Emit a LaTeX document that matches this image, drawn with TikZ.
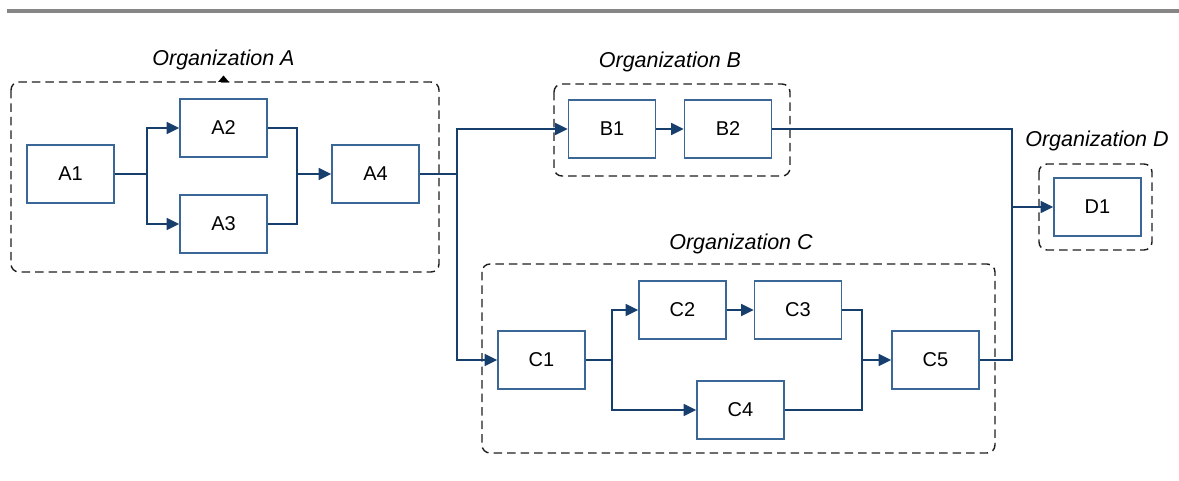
\documentclass[tikz,border=0pt]{standalone}
\usepackage{fontspec}
\setmainfont{Liberation Sans}
\usetikzlibrary{arrows.meta}
\definecolor{boxblue}{HTML}{3A6795}
\definecolor{linkblue}{HTML}{163F6E}
\definecolor{dashgray}{HTML}{1E1E1E}
\tikzset{
  procbox/.style={draw=boxblue, line width=1.6pt, fill=white, minimum width=87pt, minimum height=58pt, inner sep=0pt, font=\fontsize{20}{23}\selectfont},
  link/.style={draw=linkblue, line width=1.7pt},
  linkarrow/.style={link, -{Triangle[length=12.5pt,width=12pt]}},
  orgbox/.style={draw=dashgray, line width=1.4pt, dash pattern=on 8.5pt off 5pt, rounded corners=8pt},
  orglabel/.style={font=\fontsize{21.5}{25}\itshape\selectfont, inner sep=0pt}
}
\begin{document}
\begin{tikzpicture}[x=1pt,y=-1pt]
\useasboundingbox (0,0) rectangle (1179,481);
% top rule
\draw[draw=gray!95, line width=4pt] (7,11.5) -- (1179,11.5);

% organisation frames
\draw[orgbox] (11,82) rectangle (439,272);
\draw[orgbox] (554,84) rectangle (790,176);
\draw[orgbox] (482,264) rectangle (995,453);
\draw[orgbox] (1039,164) rectangle (1152,250);

\node[orglabel] (labA) at (223.5,59.5) {Organization A};
\node[orglabel] (labB) at (670,62) {Organization B};
\node[orglabel] (labC) at (741,243.5) {Organization C};
\node[orglabel] (labD) at (1097,140.5) {Organization D};
\fill[black] (218,82) -- (223.5,75.5) -- (229,82) -- cycle;

% boxes
\node[procbox] (A1) at (70.5,174) {A1};
\node[procbox] (A2) at (223.5,128) {A2};
\node[procbox] (A3) at (223.5,224) {A3};
\node[procbox] (A4) at (375.5,174) {A4};
\node[procbox] (B1) at (612,129) {B1};
\node[procbox] (B2) at (728,129) {B2};
\node[procbox] (C1) at (541.5,360) {C1};
\node[procbox] (C2) at (682.5,310) {C2};
\node[procbox] (C3) at (798,310) {C3};
\node[procbox] (C4) at (740.5,410) {C4};
\node[procbox] (C5) at (935.5,360) {C5};
\node[procbox] (D1) at (1097.5,207) {D1};

% split / join points
\coordinate (sA1) at (147,174);
\coordinate (jA) at (297,174);
\coordinate (sA4) at (457,174);
\coordinate (sC1) at (612,360);
\coordinate (jC) at (862,360);
\coordinate (jD) at (1012,207);

% connectors organisation A
\draw[link] (A1.east) -- (sA1);
\draw[linkarrow] (sA1) |- (A2.west);
\draw[linkarrow] (sA1) |- (A3.west);
\draw[link] (A2.east) -| (jA);
\draw[link] (A3.east) -| (jA);
\draw[linkarrow] (jA) -- (A4.west);

% A4 to B and C
\draw[link] (A4.east) -- (sA4);
\draw[linkarrow] (sA4) |- (B1.west);
\draw[linkarrow] (sA4) |- (C1.west);
\draw[linkarrow] (B1.east) -- (B2.west);

% organisation C
\draw[link] (C1.east) -- (sC1);
\draw[linkarrow] (sC1) |- (C2.west);
\draw[linkarrow] (sC1) |- (C4.west);
\draw[linkarrow] (C2.east) -- (C3.west);
\draw[link] (C3.east) -| (jC);
\draw[link] (C4.east) -| (jC);
\draw[linkarrow] (jC) -- (C5.west);

% to D
\draw[link] (B2.east) -| (jD);
\draw[link] (C5.east) -| (jD);
\draw[linkarrow] (jD) -- (D1.west);
\end{tikzpicture}
\end{document}
